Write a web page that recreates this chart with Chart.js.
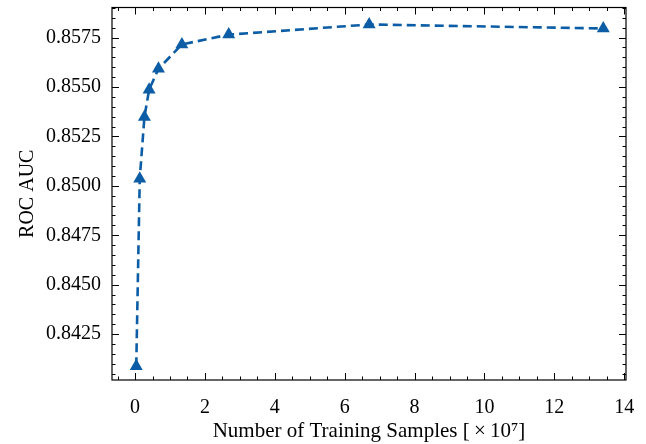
<!DOCTYPE html>
<html>
<head>
<meta charset="utf-8">
<script src="https://cdn.jsdelivr.net/npm/chart.js@4/dist/chart.umd.min.js"></script>
<style>
  html, body { margin: 0; padding: 0; background: #fff; }
  #wrap { width: 646px; height: 444px; }
</style>
</head>
<body>
<div id="wrap"><canvas id="grafico" width="646" height="444"></canvas></div>
<script>
// training samples (x 10^7) and ROC AUC
const amostras = [0.034, 0.134, 0.268, 0.402, 0.67, 1.34, 2.68, 6.7, 13.4];
const rocAuc = [0.84088, 0.85036, 0.85348, 0.85486, 0.85592, 0.85715, 0.85765, 0.85816, 0.85796];

const xTicks = [0, 2, 4, 6, 8, 10, 12, 14];
const yTicks = [0.8425, 0.8450, 0.8475, 0.8500, 0.8525, 0.8550, 0.8575];

const azul = "#0C5DA5";
const fonte = "'Liberation Serif', 'DejaVu Serif', serif";

// inward ticks on all four sides + frame, like the matplotlib "science" style
const moldura = {
  id: "moldura",
  afterDraw(chart) {
    const ctx = chart.ctx;
    const a = chart.chartArea;
    const sx = chart.scales.x, sy = chart.scales.y;
    ctx.save();
    ctx.strokeStyle = "#000";
    ctx.lineWidth = 1.2;
    ctx.strokeRect(a.left, a.top, a.right - a.left, a.bottom - a.top);
    ctx.lineWidth = 1;
    ctx.beginPath();
    for (let v = -0.5; v <= sx.max + 1e-9; v += 0.5) {
      const px = Math.round(sx.getPixelForValue(v)) + 0.5;
      const major = Math.abs(v / 2 - Math.round(v / 2)) < 1e-6;
      const len = major ? 7 : 3.5;
      ctx.moveTo(px, a.bottom); ctx.lineTo(px, a.bottom - len);
      ctx.moveTo(px, a.top); ctx.lineTo(px, a.top + len);
    }
    for (let k = 0; ; k++) {
      const v = 0.8405 + k * 0.0005;
      if (v > sy.max) break;
      if (v < sy.min) continue;
      const py = Math.round(sy.getPixelForValue(v)) + 0.5;
      const major = yTicks.some(t => Math.abs(t - v) < 1e-7);
      const len = major ? 7 : 3.5;
      ctx.moveTo(a.left, py); ctx.lineTo(a.left + len, py);
      ctx.moveTo(a.right, py); ctx.lineTo(a.right - len, py);
    }
    ctx.stroke();
    ctx.restore();
  }
};

const ctx = document.getElementById("grafico");
new Chart(ctx, {
  type: "line",
  data: {
    datasets: [
      {
        label: "ROC AUC",
        data: amostras.map((x, i) => ({ x: x, y: rocAuc[i] })),
        borderColor: azul,
        backgroundColor: azul,
        borderWidth: 2.6,
        borderDash: [9, 5],
        pointStyle: "triangle",
        pointRadius: 7.5,
        pointBorderWidth: 0,
        tension: 0,
      },
    ],
  },
  options: {
    responsive: false,
    animation: false,
    layout: { padding: { left: 0, right: 20, top: 7, bottom: 0 } },
    plugins: { legend: { display: false }, tooltip: { enabled: false } },
    scales: {
      x: {
        type: "linear",
        min: -0.66,
        max: 14.05,
        grid: { display: false, drawTicks: false },
        border: { display: false },
        afterBuildTicks: (s) => { s.ticks = xTicks.map(v => ({ value: v })); },
        afterFit: (s) => { s.height = 64; s.paddingLeft = 0; s.paddingRight = 0; },
        ticks: {
          color: "#000",
          padding: 16,
          maxRotation: 0,
          font: { family: fonte, size: 20 },
        },
        title: {
          display: true,
          text: "Number of Training Samples [\u2009×\u200910⁷]",
          color: "#000",
          font: { family: fonte, size: 21 },
          padding: { top: 1, bottom: 0 },
        },
      },
      y: {
        min: 0.84018,
        max: 0.85902,
        grid: { display: false, drawTicks: false },
        border: { display: false },
        afterBuildTicks: (s) => { s.ticks = yTicks.map(v => ({ value: v })); },
        afterFit: (s) => { s.width = 112; s.paddingTop = 0; s.paddingBottom = 0; },
        ticks: {
          color: "#000",
          padding: 11,
          font: { family: fonte, size: 20 },
          callback: (v) => v.toFixed(4),
        },
        title: {
          display: true,
          text: "ROC AUC",
          color: "#000",
          font: { family: fonte, size: 20 },
          padding: { top: 16, bottom: 0 },
        },
      },
    },
  },
  plugins: [moldura],
});
</script>
</body>
</html>
